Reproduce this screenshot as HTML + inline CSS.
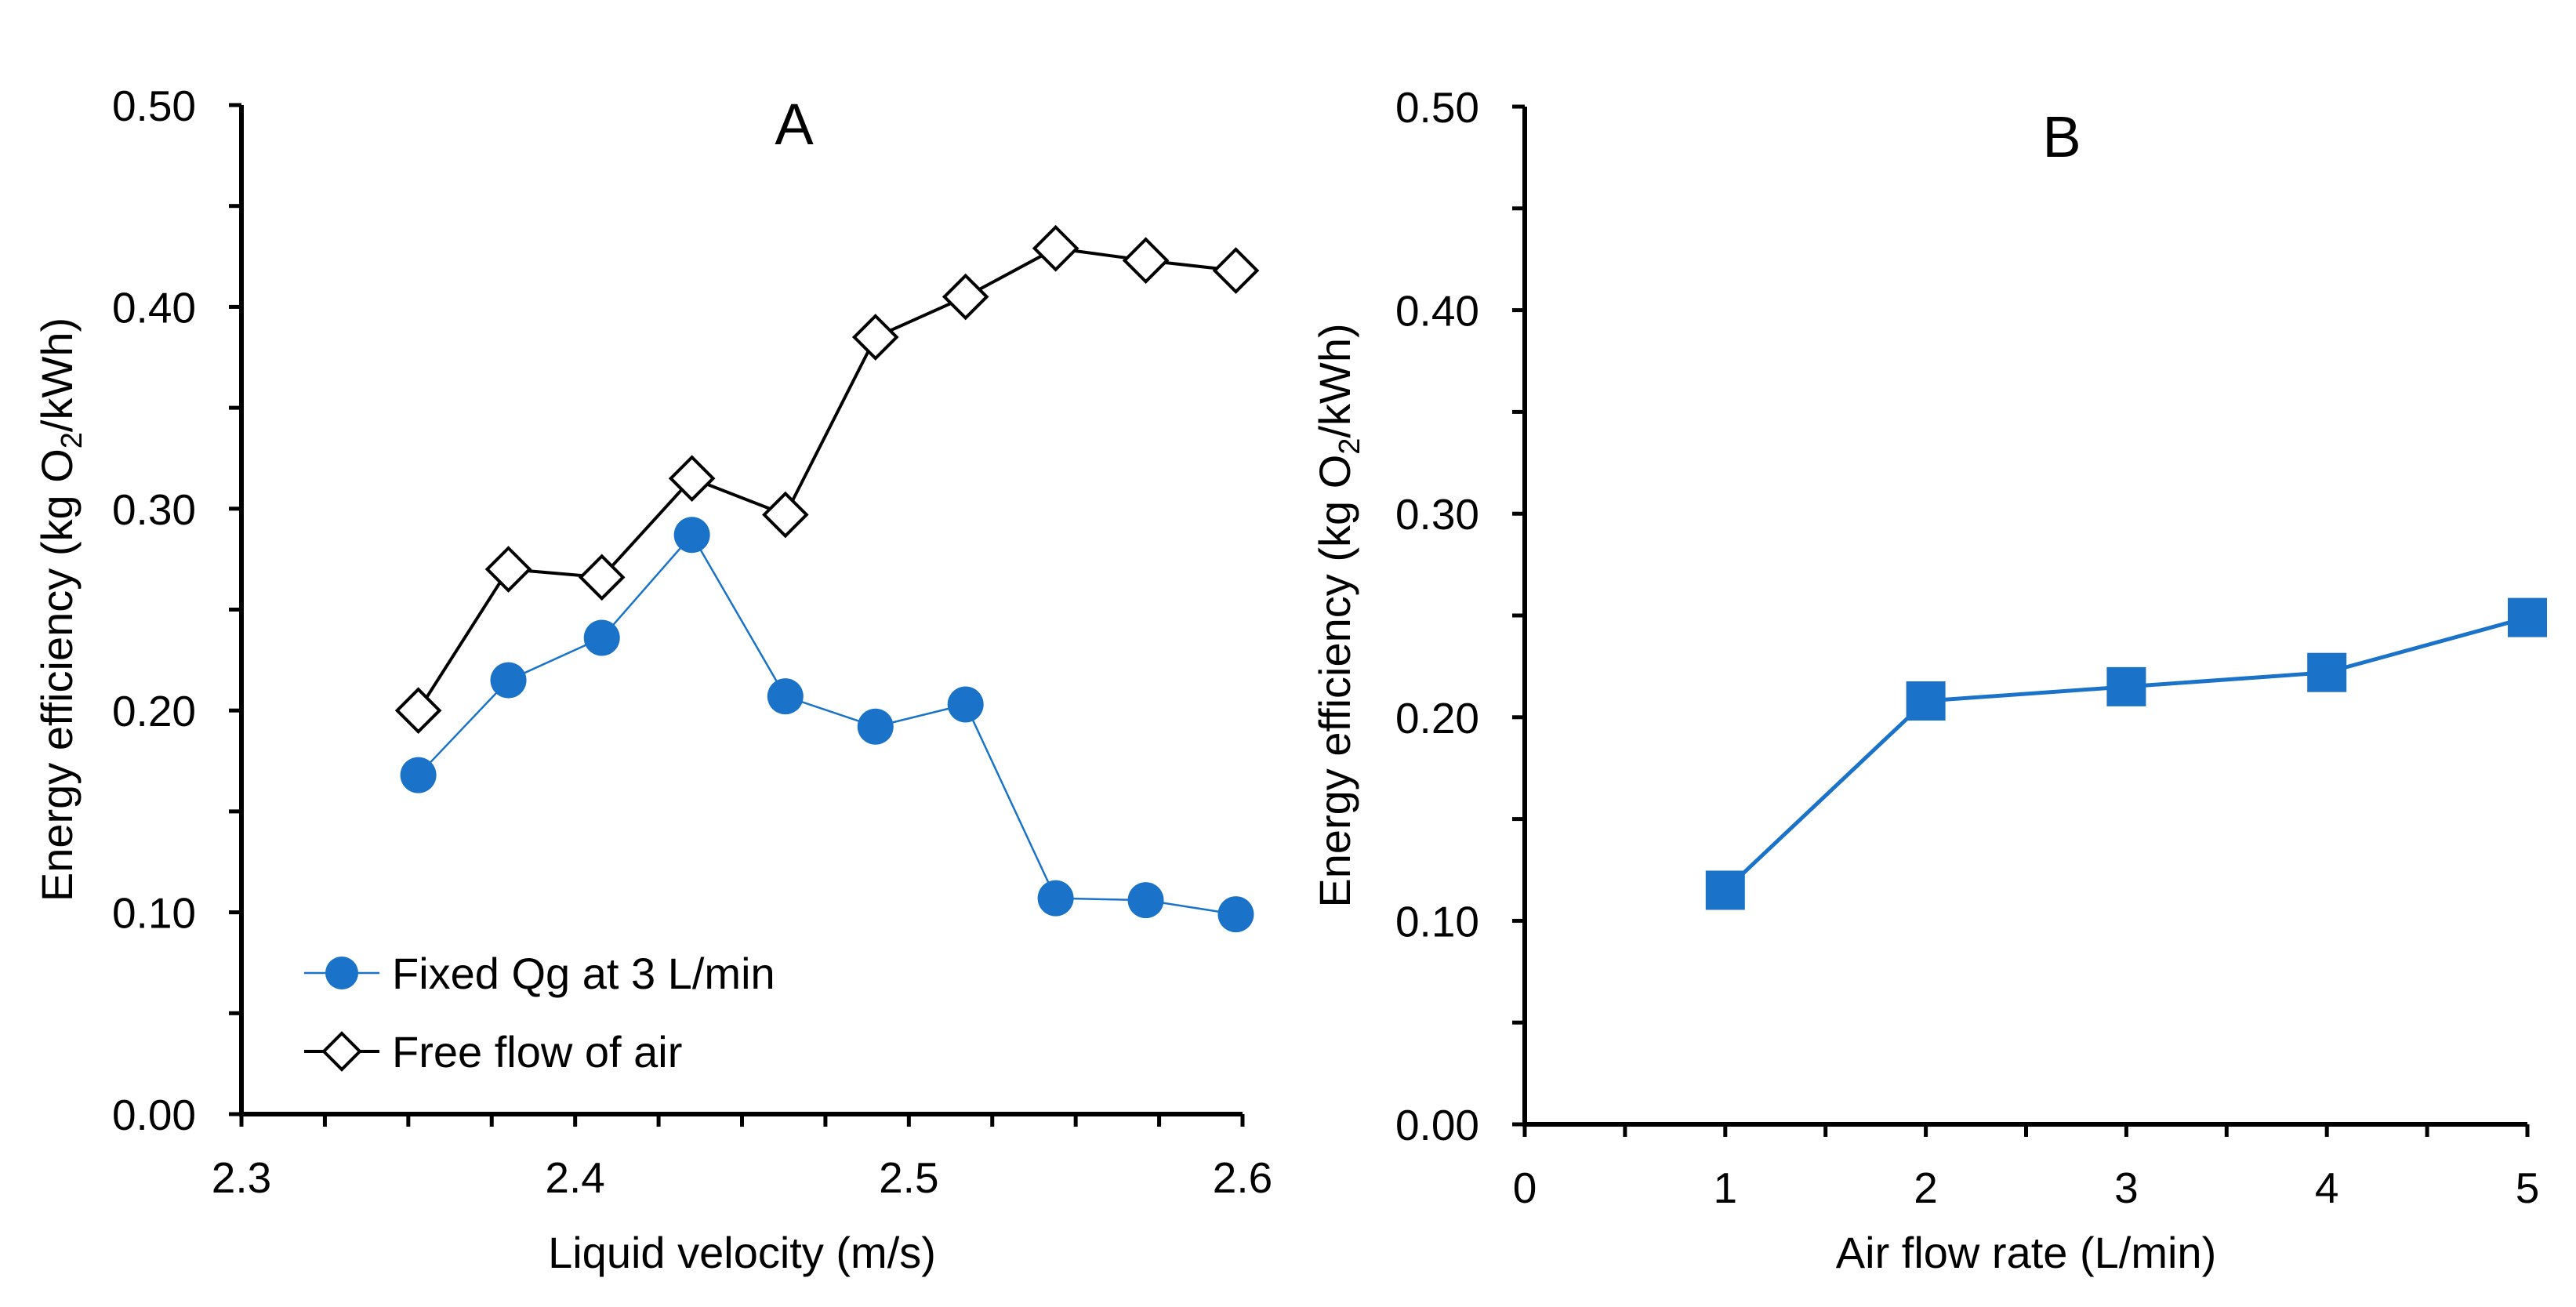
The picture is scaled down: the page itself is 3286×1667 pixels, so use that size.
<!DOCTYPE html>
<html><head><meta charset="utf-8"><style>
html,body{margin:0;padding:0;background:#fff}
svg{display:block;font-family:"Liberation Sans",sans-serif}
</style></head><body>
<svg id="c" width="3286" height="1667" viewBox="0 0 3286 1667"></svg>
<script>
const velA = [2.353,2.380,2.408,2.435,2.463,2.490,2.517,2.544,2.571,2.598];
const fixedQg = [0.168,0.215,0.236,0.287,0.207,0.192,0.203,0.107,0.106,0.099];
const freeAir = [0.200,0.270,0.266,0.315,0.297,0.385,0.405,0.429,0.423,0.418];
const airFlowB = [1,2,3,4,5];
const effB = [0.115,0.208,0.215,0.222,0.249];
const yTicks = ["0.00","0.10","0.20","0.30","0.40","0.50"];
const xTicksA = ["2.3","2.4","2.5","2.6"];
const xTicksB = ["0","1","2","3","4","5"];
const blue = "#1a73c9";
const svg = document.getElementById('c');
const NS = "http://www.w3.org/2000/svg";
function el(tag, attrs, parent){const e=document.createElementNS(NS,tag);for(const k in attrs)e.setAttribute(k,attrs[k]);(parent||svg).appendChild(e);return e;}
function txt(s, attrs, parent){const t=el('text',attrs,parent);t.textContent=s;return t;}

function panel(cfg){
  const g=el('g',{});
  
  
  const X=v=>cfg.x0+(v-cfg.xmin)/(cfg.xmax-cfg.xmin)*(cfg.x1-cfg.x0);
  const Y=v=>cfg.y0-(v-0)/(0.5)*(cfg.y0-cfg.y1);
  const ax=el('g',{},g);
  
  
  el('line',{x1:cfg.x0,y1:cfg.y0+3,x2:cfg.x0,y2:cfg.y1,stroke:'#000','stroke-width':6},ax);
  for(let i=0;i<=10;i++){const v=i*0.05;const y=Y(v);el('line',{x1:cfg.x0-16,y1:y,x2:cfg.x0,y2:y,stroke:'#000','stroke-width':5},ax);}
  yTicks.forEach(s=>{const t=txt(s,{x:cfg.x0-58,y:Y(parseFloat(s))+20,'text-anchor':'end','font-size':55,fill:'#000'},ax);
    });
  const xa=el('g',{},g);
  
  
  el('line',{x1:cfg.x0-3,y1:cfg.y0,x2:cfg.x1,y2:cfg.y0,stroke:'#000','stroke-width':6},xa);
  const n=Math.round((cfg.xmax-cfg.xmin)/cfg.minor);
  for(let i=0;i<=n;i++){const x=X(cfg.xmin+i*cfg.minor);el('line',{x1:x,y1:cfg.y0,x2:x,y2:cfg.y0+16,stroke:'#000','stroke-width':5},xa);}
  cfg.xt.forEach(s=>{const t=txt(s,{x:X(parseFloat(s)),y:cfg.y0+100,'text-anchor':'middle','font-size':55,fill:'#000'},xa);
    });
  const xt=txt(cfg.xtitle,{x:(cfg.x0+cfg.x1)/2,y:1617,'text-anchor':'middle','font-size':56,fill:'#000'},g);
  
  const yt=el('text',{transform:`translate(${cfg.ytx},${(cfg.y0+cfg.y1)/2}) rotate(-90)`,'text-anchor':'middle','font-size':56,fill:'#000'},g);
  
  yt.innerHTML='Energy efficiency (kg O<tspan font-size="38" dy="12">2</tspan><tspan dy="-12">/kWh)</tspan>';
  const tt=txt(cfg.title,{x:cfg.tx,y:cfg.ty,'text-anchor':'middle','font-size':74,fill:'#000'},g);
  
  return {g,X,Y};
}

const A=panel({name:'panel-a',x0:308,x1:1585,y0:1421,y1:134,xmin:2.3,xmax:2.6,minor:0.025,xt:xTicksA,xtitle:'Liquid velocity (m/s)',ytx:92,title:'A',tx:1013,ty:184});
const pBlue=el('polyline',{points:velA.map((v,i)=>A.X(v)+','+A.Y(fixedQg[i])).join(' '),fill:'none',stroke:blue,'stroke-width':2.5},A.g);

const pBlk=el('polyline',{points:velA.map((v,i)=>A.X(v)+','+A.Y(freeAir[i])).join(' '),fill:'none',stroke:'#000','stroke-width':4},A.g);

velA.forEach((v,i)=>{
  const c=el('circle',{cx:A.X(v),cy:A.Y(fixedQg[i]),r:23,fill:blue},A.g);
  
  const x=A.X(v),y=A.Y(freeAir[i]),d=27;
  const p=el('polygon',{points:`${x},${y-d} ${x+d},${y} ${x},${y+d} ${x-d},${y}`,fill:'#fff',stroke:'#000','stroke-width':4},A.g);
  
});
const lg=el('g',{},A.g);

const l1=el('g',{},lg);
el('line',{x1:388,y1:1241,x2:484,y2:1241,stroke:blue,'stroke-width':2.5},l1);
el('circle',{cx:436,cy:1241,r:21,fill:blue},l1);
txt('Fixed Qg at 3 L/min',{x:500,y:1261,'font-size':56,fill:'#000'},l1);
const l2=el('g',{},lg);
el('line',{x1:388,y1:1341,x2:484,y2:1341,stroke:'#000','stroke-width':4},l2);
el('polygon',{points:'436,1318 459,1341 436,1364 413,1341',fill:'#fff',stroke:'#000','stroke-width':4},l2);
txt('Free flow of air',{x:500,y:1361,'font-size':56,fill:'#000'},l2);

const B=panel({name:'panel-b',x0:1945,x1:3224,y0:1434,y1:136,xmin:0,xmax:5,minor:0.5,xt:xTicksB,xtitle:'Air flow rate (L/min)',ytx:1722,title:'B',tx:2630,ty:200});
const pB=el('polyline',{points:airFlowB.map((v,i)=>B.X(v)+','+B.Y(effB[i])).join(' '),fill:'none',stroke:blue,'stroke-width':5},B.g);

airFlowB.forEach((v,i)=>{
  const r=el('rect',{x:B.X(v)-25,y:B.Y(effB[i])-25,width:50,height:50,fill:blue},B.g);
  
});
</script>
</body></html>
